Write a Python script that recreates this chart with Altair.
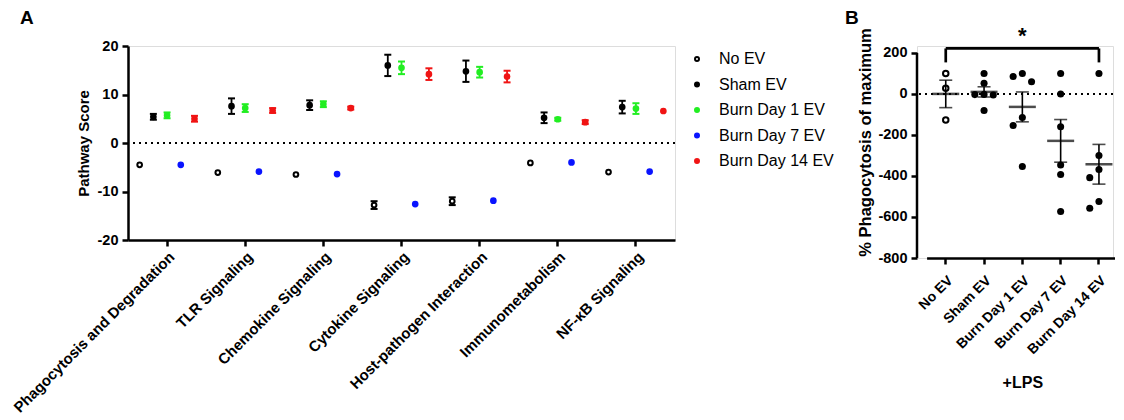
import altair as alt
import pandas as pd
import numpy as np

FONT = "Liberation Sans"

# ---------------- Panel A data ----------------
pathways = ["Phagocytosis and Degradation", "TLR Signaling", "Chemokine Signaling",
            "Cytokine Signaling", "Host-pathogen Interaction", "Immunometabolism",
            "NF-\u03baB Signaling"]
groups = ["No EV", "Sham EV", "Burn Day 1 EV", "Burn Day 7 EV", "Burn Day 14 EV"]

score_no_ev = [-4.5, -6.1, -6.5, -12.8, -12.0, -4.1, -6.0]
err_no_ev = [0.0, 0.0, 0.0, 0.8, 0.8, 0.0, 0.0]
score_sham = [5.4, 7.6, 7.8, 16.0, 14.8, 5.2, 7.4]
err_sham = [0.6, 1.6, 1.0, 2.2, 2.2, 1.1, 1.3]
score_day1 = [5.7, 7.2, 8.0, 15.5, 14.6, 4.9, 7.1]
err_day1 = [0.6, 0.8, 0.6, 1.3, 1.1, 0.3, 1.1]
score_day7 = [-4.5, -5.9, -6.4, -12.6, -11.9, -4.0, -5.9]
err_day7 = [0.0, 0.0, 0.0, 0.0, 0.0, 0.0, 0.0]
score_day14 = [5.0, 6.7, 7.2, 14.2, 13.7, 4.3, 6.6]
err_day14 = [0.6, 0.5, 0.3, 1.2, 1.2, 0.4, 0.0]

fill_colors = ["#ffffff", "#000000", "#22ee22", "#0a14ff", "#f01414"]
stroke_colors = ["#000000", "#000000", "#22ee22", "#0a14ff", "#f01414"]

# ---------------- Panel B data ----------------
b_no_ev = [100, 28, -127]
b_sham = [100, 52, -2, -3, -5, -81]
b_day1 = [100, 85, 60, -115, -154, -354]
b_day7 = [100, 0, -160, -346, -393, -573]
b_day14 = [100, -300, -368, -408, -524, -557]
b_ticks = [-800, -600, -400, -200, 0, 200]

# ---------------- build tables ----------------
rows = []
for g, sc, er in zip(groups,
                     [score_no_ev, score_sham, score_day1, score_day7, score_day14],
                     [err_no_ev, err_sham, err_day1, err_day7, err_day14]):
    for p, s, e in zip(pathways, sc, er):
        rows.append(dict(pathway=p, series=g, score=s, err=e, lo=s - e, hi=s + e))
dfa = pd.DataFrame(rows)


def swarm(values, thr=45):
    order = sorted(range(len(values)), key=lambda i: -values[i])
    placed, slots = [], [0] * len(values)
    for i in order:
        for s in [0, -1, 1, -2, 2]:
            if all(abs(values[i] - v) >= thr for v, ss in placed if ss == s):
                slots[i] = s
                placed.append((values[i], s))
                break
    return slots


brows = []
for g, vals in zip(groups, [b_no_ev, b_sham, b_day1, b_day7, b_day14]):
    for v, s in zip(vals, swarm(vals)):
        brows.append(dict(group=g, value=v, slot=s, open=(g == "No EV")))
dfb = pd.DataFrame(brows)
stats = dfb.groupby("group", sort=False)["value"].agg(["mean", "std", "count"]).reset_index()
stats["sem"] = stats["std"] / np.sqrt(stats["count"])
stats["lo"] = stats["mean"] - stats["sem"]
stats["hi"] = stats["mean"] + stats["sem"]

# ---------------- Panel A ----------------
axis_common = dict(labelFont=FONT, titleFont=FONT, labelFontWeight="bold", titleFontWeight="bold",
                   labelColor="black", titleColor="black", domainColor="black", tickColor="black",
                   tickWidth=2.5, tickSize=6, grid=False, labelLimit=400)
num_label = "'' + datum.value"

xA = alt.X("pathway:N", sort=pathways,
           scale=alt.Scale(type="band", domain=pathways, paddingInner=0, paddingOuter=0),
           axis=alt.Axis(title=None, labelAngle=-45, labelFontSize=15, labelPadding=3,
                         domainWidth=2.5, **axis_common))
xoffA = alt.XOffset("series:N", sort=groups,
                    scale=alt.Scale(domain=groups, paddingInner=0, paddingOuter=0.35))
axisA_y = alt.Axis(title="Pathway Score", values=[-20, -10, 0, 10, 20], labelFontSize=14.5,
                   labelExpr=num_label, titleFontSize=15, titlePadding=6, labelPadding=4,
                   domainWidth=2.5, **axis_common)
yA_scale = alt.Scale(domain=[-20, 20], nice=False)

fill_enc = alt.Fill("series:N", sort=groups, scale=alt.Scale(domain=groups, range=fill_colors), legend=None)
stroke_enc = alt.Stroke("series:N", sort=groups, scale=alt.Scale(domain=groups, range=stroke_colors), legend=None)
cap_shape = "M -1 0 L 1 0"

baseA = alt.Chart(dfa)
zeroA = alt.Chart(pd.DataFrame({"z": [0]})).mark_rule(
    strokeDash=[2, 4], strokeWidth=2, color="black").encode(
    y=alt.Y("z:Q", scale=yA_scale, axis=axisA_y))
errA = baseA.transform_filter("datum.err > 0").mark_rule(strokeWidth=1.8).encode(
    x=xA, xOffset=xoffA, y=alt.Y("lo:Q", scale=yA_scale, axis=axisA_y), y2="hi:Q", stroke=stroke_enc)
capsA = baseA.transform_filter("datum.err > 0").transform_fold(["lo", "hi"], as_=["which", "v"]).mark_point(
    shape=cap_shape, size=49, strokeWidth=2, opacity=1, filled=False).encode(
    x=xA, xOffset=xoffA, y=alt.Y("v:Q", scale=yA_scale, axis=axisA_y), stroke=stroke_enc)
ptsA = baseA.mark_point(shape="circle", size=22, strokeWidth=2, opacity=1, filled=True).encode(
    x=xA, xOffset=xoffA, y=alt.Y("score:Q", scale=yA_scale, axis=axisA_y), fill=fill_enc, stroke=stroke_enc)
labA = alt.Chart(pd.DataFrame({"t": ["A"]})).mark_text(
    fontSize=19, fontWeight="bold", align="left", baseline="alphabetic", font=FONT, color="black"
).encode(text="t:N", x=alt.value(-108), y=alt.value(-22))

# legend drawn as a small layer with its own vertical point scale
dleg = pd.DataFrame({"series": groups})
yLeg = alt.Y("series:N", sort=groups,
             scale=alt.Scale(type="point", domain=groups, range=[13, 115], padding=0), axis=None)
legPts = alt.Chart(dleg).mark_point(shape="circle", size=16, strokeWidth=2, opacity=1, filled=True).encode(
    x=alt.value(569), y=yLeg, fill=fill_enc, stroke=stroke_enc)
legTxt = alt.Chart(dleg).mark_text(fontSize=16, font=FONT, color="black", align="left",
                                   baseline="middle").encode(
    x=alt.value(591), y=yLeg, text="series:N")

plotA = alt.layer(zeroA, errA, capsA, ptsA, labA)
legendA = alt.layer(legPts, legTxt)
panelA = alt.layer(plotA, legendA).resolve_scale(y="independent").properties(width=547, height=194)

# ---------------- Panel B ----------------
xB = alt.X("group:N", sort=groups,
           scale=alt.Scale(type="band", domain=groups, range=[9.6, 201.1], paddingInner=0, paddingOuter=0),
           axis=alt.Axis(title="+LPS", labelAngle=-45, labelFontSize=14, labelPadding=9,
                         titleFontSize=16, titlePadding=18, domainWidth=2.5, **axis_common))
yB_scale = alt.Scale(domain=[-800, 234], nice=False)
axisB_y = alt.Axis(title="% Phagocytosis of maximum", values=b_ticks, domain=False,
                   labelExpr=num_label, labelFontSize=14.5, titleFontSize=16.5, titlePadding=4,
                   labelPadding=4, titleY=96, **axis_common)
xoffB = alt.XOffset("slot:Q", scale=alt.Scale(domain=[-2.08, 2.08]))

zeroB = alt.Chart(pd.DataFrame({"z": [0]})).mark_rule(
    strokeDash=[2, 4], strokeWidth=2, color="black").encode(
    y=alt.Y("z:Q", scale=yB_scale, axis=axisB_y))
axisB = alt.Chart(pd.DataFrame({"a": [b_ticks[0]], "b": [b_ticks[-1]]})).mark_rule(
    strokeWidth=2.5, color="black").encode(
    x=alt.value(0), y=alt.Y("a:Q", scale=yB_scale, axis=axisB_y), y2="b:Q")
ptsB_open = alt.Chart(dfb).transform_filter("datum.open").mark_point(
    shape="circle", size=30, strokeWidth=2, filled=False, color="black", opacity=1).encode(
    x=xB, xOffset=xoffB, y=alt.Y("value:Q", scale=yB_scale, axis=axisB_y))
ptsB = alt.Chart(dfb).transform_filter("!datum.open").mark_circle(
    size=50, color="black", opacity=1).encode(
    x=xB, xOffset=xoffB, y=alt.Y("value:Q", scale=yB_scale, axis=axisB_y))
semB = alt.Chart(stats).mark_rule(strokeWidth=1.6, color="black").encode(
    x=xB, y=alt.Y("lo:Q", scale=yB_scale, axis=axisB_y), y2="hi:Q")
capsB = alt.Chart(stats).transform_fold(["lo", "hi"], as_=["which", "v"]).mark_tick(
    size=13, thickness=1.6, color="black").encode(
    x=xB, y=alt.Y("v:Q", scale=yB_scale, axis=axisB_y))
meanB = alt.Chart(stats).mark_tick(size=27, thickness=2.5, color="black").encode(
    x=xB, y=alt.Y("mean:Q", scale=yB_scale, axis=axisB_y))

bracket = pd.DataFrame({"g1": [groups[0]], "g2": [groups[-1]], "top": [222], "bot": [154],
                        "mid": [groups[2]], "star": [247], "txt": ["*"]})
brH = alt.Chart(bracket).mark_rule(strokeWidth=2.7, color="black").encode(
    x=alt.X("g1:N", sort=groups), x2="g2:N", y=alt.Y("top:Q", scale=yB_scale, axis=axisB_y))
brL = alt.Chart(bracket).mark_rule(strokeWidth=2.7, color="black").encode(
    x=alt.X("g1:N", sort=groups), y=alt.Y("top:Q", scale=yB_scale, axis=axisB_y), y2="bot:Q")
brR = alt.Chart(bracket).mark_rule(strokeWidth=2.7, color="black").encode(
    x=alt.X("g2:N", sort=groups), y=alt.Y("top:Q", scale=yB_scale, axis=axisB_y), y2="bot:Q")
star = alt.Chart(bracket).mark_text(fontSize=22, fontWeight="bold", font=FONT, color="black",
                                    baseline="alphabetic").encode(
    x=alt.X("mid:N", sort=groups), y=alt.Y("star:Q", scale=yB_scale, axis=axisB_y), text="txt:N")
labB = alt.Chart(pd.DataFrame({"t": ["B"]})).mark_text(
    fontSize=19, fontWeight="bold", align="left", baseline="alphabetic", font=FONT, color="black"
).encode(text="t:N", x=alt.value(-72), y=alt.value(-22))

panelB = alt.layer(zeroB, axisB, semB, capsB, meanB, ptsB_open, ptsB, brH, brL, brR, star, labB
                   ).properties(width=196, height=212)

chart = alt.hconcat(panelA, panelB, spacing=242, bounds="flush").properties(
    padding={"left": 2, "top": 0, "right": 0, "bottom": 0}
).configure_view(stroke=None).configure(font=FONT)

chart.save("out.html", embed_options={"renderer": "svg", "actions": False})
